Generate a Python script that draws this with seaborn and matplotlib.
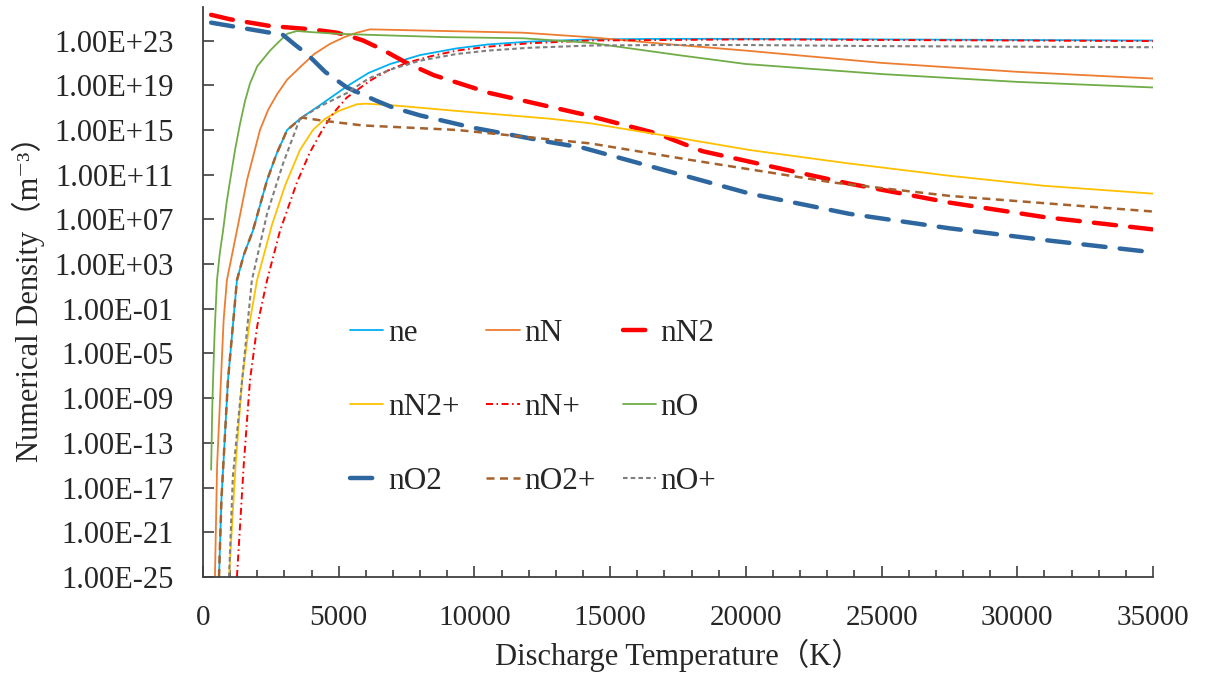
import matplotlib as mtl
mtl.use('Agg')
import matplotlib.pyplot as plt
from matplotlib.ticker import FixedLocator, FuncFormatter, MultipleLocator, NullLocator
import numpy as np
import pandas as pd
import seaborn as sns

# values: temperature (K) and log10 of density (m^-3)
T_ne = [590, 680, 920, 1250, 1500, 1840, 2360, 2700, 3100, 3570, 4300, 5300, 6100, 6900, 8000, 9350, 10500, 12000, 14250, 17000, 20000, 25000, 30000, 35000]
L_ne = [-25, -18, -7.4, 1.55, 3.8, 6.0, 10.5, 12.8, 15.0, 16.0, 17.2, 18.9, 20.1, 20.9, 21.7, 22.3, 22.65, 22.9, 23.1, 23.15, 23.15, 23.1, 23.05, 23.0]

T_nN = [440, 520, 660, 760, 880, 1250, 1620, 2100, 2400, 2730, 3100, 3570, 4100, 4680, 5200, 5670, 6150, 8000, 11800, 14250, 17000, 20000, 25000, 30000, 35000]
L_nN = [-25, -15, -7.4, -2.0, 1.55, 6.0, 10.5, 15.0, 16.8, 18.2, 19.5, 20.6, 21.8, 22.7, 23.3, 23.7, 24.0, 23.9, 23.7, 23.3, 22.7, 22.1, 21.0, 20.2, 19.6]

T_nN2 = [300, 1000, 2470, 4000, 4930, 5400, 5900, 6600, 7500, 8500, 10570, 14000, 16700, 18400, 22100, 23800, 27500, 31000, 35000]
L_nN2 = [25.3, 24.9, 24.3, 24.0, 23.7, 23.4, 23.0, 22.2, 21.0, 19.9, 18.3, 16.4, 14.7, 13.1, 11.1, 10.2, 8.5, 7.2, 6.1]

T_nN2p = [960, 1200, 1440, 1700, 1990, 2540, 3020, 3570, 4050, 4500, 5000, 5670, 6000, 7000, 9350, 12800, 14250, 17000, 20150, 23800, 27500, 31000, 35000]
L_nN2p = [-25, -15, -7.4, -2.5, 1.55, 6.5, 10.0, 13.2, 15.0, 16.0, 16.7, 17.3, 17.35, 17.2, 16.7, 16.0, 15.6, 14.5, 13.2, 12.0, 10.9, 10.0, 9.3]

T_nNp = [1250, 1500, 1730, 2000, 2360, 2840, 3100, 3460, 3940, 4420, 4800, 5300, 6150, 6800, 7500, 8400, 9350, 10500, 12000, 14250, 20000, 25000, 30000, 35000]
L_nNp = [-25, -15, -7.4, -2.5, 1.55, 6.0, 7.8, 10.3, 13.0, 15.1, 16.5, 17.9, 19.4, 20.3, 21.0, 21.6, 22.1, 22.45, 22.75, 23.0, 23.1, 23.05, 23.0, 22.95]

T_nO = [300, 340, 370, 430, 515, 620, 740, 870, 1000, 1180, 1360, 1550, 1730, 2000, 2470, 2800, 3100, 3460, 4000, 5000, 6900, 9000, 11800, 14250, 17500, 20000, 25000, 30000, 35000]
L_nO = [-15.4, -10, -7.4, -3.0, 1.55, 4.0, 6.0, 8.5, 10.5, 13.2, 15.5, 17.6, 19.15, 20.7, 22.1, 22.9, 23.6, 23.85, 23.75, 23.6, 23.45, 23.3, 23.2, 22.8, 21.7, 20.9, 20.0, 19.3, 18.8]

T_nO2 = [300, 1500, 2470, 2950, 3400, 3830, 4500, 5300, 6400, 7000, 8000, 9950, 12800, 14000, 17000, 20150, 23800, 27500, 31000, 35000]
L_nO2 = [24.6, 24.1, 23.7, 23.5, 22.6, 21.8, 20.2, 18.8, 17.6, 17.0, 16.3, 15.2, 13.9, 13.4, 11.4, 9.3, 7.5, 6.2, 5.15, 4.05]

T_nO2p = [590, 680, 920, 1250, 1500, 1840, 2360, 2700, 3100, 3650, 4500, 5900, 9350, 12800, 14250, 18000, 23200, 27500, 35000]
L_nO2p = [-25, -18, -7.4, 1.55, 3.8, 6.0, 10.5, 12.8, 15.0, 16.1, 15.8, 15.4, 15.0, 14.15, 13.8, 12.3, 10.3, 9.1, 7.7]

T_nOp = [960, 1100, 1440, 1800, 2360, 2950, 3570, 4300, 5300, 6100, 6900, 8000, 9350, 10500, 12000, 14250, 17000, 20000, 25000, 30000, 35000]
L_nOp = [-25, -16, -7.4, 1.55, 7.5, 12.0, 16.0, 17.1, 18.3, 19.6, 20.4, 21.2, 21.8, 22.1, 22.35, 22.55, 22.6, 22.6, 22.5, 22.45, 22.4]

names = ["ne", "nN", "nN2", "nN2+", "nN+", "nO", "nO2", "nO2+", "nO+"]
temps = [T_ne, T_nN, T_nN2, T_nN2p, T_nNp, T_nO, T_nO2, T_nO2p, T_nOp]
logs = [L_ne, L_nN, L_nN2, L_nN2p, L_nNp, L_nO, L_nO2, L_nO2p, L_nOp]

styles = {
    "ne":   dict(color="#00B0F0", lw=1.3, ls="-"),
    "nN":   dict(color="#ED7D31", lw=1.3, ls="-"),
    "nN2":  dict(color="#FF0000", lw=3.2, ls=(0, (5, 3.2))),
    "nN2+": dict(color="#FFC000", lw=1.3, ls="-"),
    "nN+":  dict(color="#FF0000", lw=1.4, ls=(0, (3.6, 1.8, 0.8, 1.8))),
    "nO":   dict(color="#70AD47", lw=1.3, ls="-"),
    "nO2":  dict(color="#2E67A0", lw=3.2, ls=(0, (5, 3.2))),
    "nO2+": dict(color="#A5622D", lw=1.8, ls=(0, (3.2, 2.2))),
    "nO+":  dict(color="#7F7F7F", lw=1.5, ls=(0, (2.2, 1.5))),
}

sns.set_style("ticks")
plt.rcParams['font.family'] = ['Liberation Serif', 'Noto Sans CJK SC', 'DejaVu Serif']
plt.rcParams['axes.unicode_minus'] = False

fig = plt.figure(figsize=(12.11, 6.73), dpi=100)
ax = fig.add_axes([203 / 1211, 1 - 577 / 673, 950 / 1211, 570 / 673])
ax.set_yscale('log')

for name, t, l in zip(names, temps, logs):
    df = pd.DataFrame({"T": t, "n": 10.0 ** np.array(l)})
    st = styles[name]
    sns.lineplot(data=df, x="T", y="n", ax=ax, color=st["color"], linewidth=st["lw"],
                 linestyle=st["ls"], label=name, estimator=None, sort=False,
                 dash_capstyle="round" if st["lw"] > 3 else "butt")

ax.set_xlim(0, 35000)
ax.set_ylim(1e-25, 1e26)
ax.xaxis.set_major_locator(MultipleLocator(5000))
ax.xaxis.set_minor_locator(MultipleLocator(1000))
ax.yaxis.set_major_locator(FixedLocator([10.0 ** e for e in range(-25, 24, 4)]))
ax.yaxis.set_minor_locator(NullLocator())
ax.yaxis.set_major_formatter(FuncFormatter(lambda v, p: f"{v:.2E}"))
ax.xaxis.set_major_formatter(FuncFormatter(lambda v, p: f"{int(v)}"))

ax.tick_params(axis='both', which='major', direction='in', color='#404040', width=1.2)
ax.tick_params(axis='x', which='major', length=8, pad=20, labelsize=21)
ax.tick_params(axis='x', which='minor', direction='in', length=5, color='#404040', width=1.2)
ax.tick_params(axis='y', which='major', length=8, pad=21, labelsize=22)
sns.despine(ax=ax)
for s in ['left', 'bottom']:
    ax.spines[s].set_color('#404040')
    ax.spines[s].set_linewidth(1.3)

ax.set_xlabel("Discharge Temperature（K）", fontsize=22, labelpad=6)
ax.set_ylabel("Numerical Density（m⁻³）", fontsize=22, labelpad=7)

handles, labels = ax.get_legend_handles_labels()
lookup = dict(zip(labels, handles))
order = ["ne", "nN2+", "nO2", "nN", "nN+", "nO2+", "nN2", "nO", "nO+"]
ax.legend([lookup[k] for k in order], order, ncol=3, frameon=False, fontsize=22.5,
          loc='upper left', bbox_to_anchor=(0.155, 0.452), borderpad=0, borderaxespad=0,
          handlelength=1.06, handletextpad=0.15, columnspacing=0.86, labelspacing=1.44)

plt.savefig("out.png", dpi=100)
